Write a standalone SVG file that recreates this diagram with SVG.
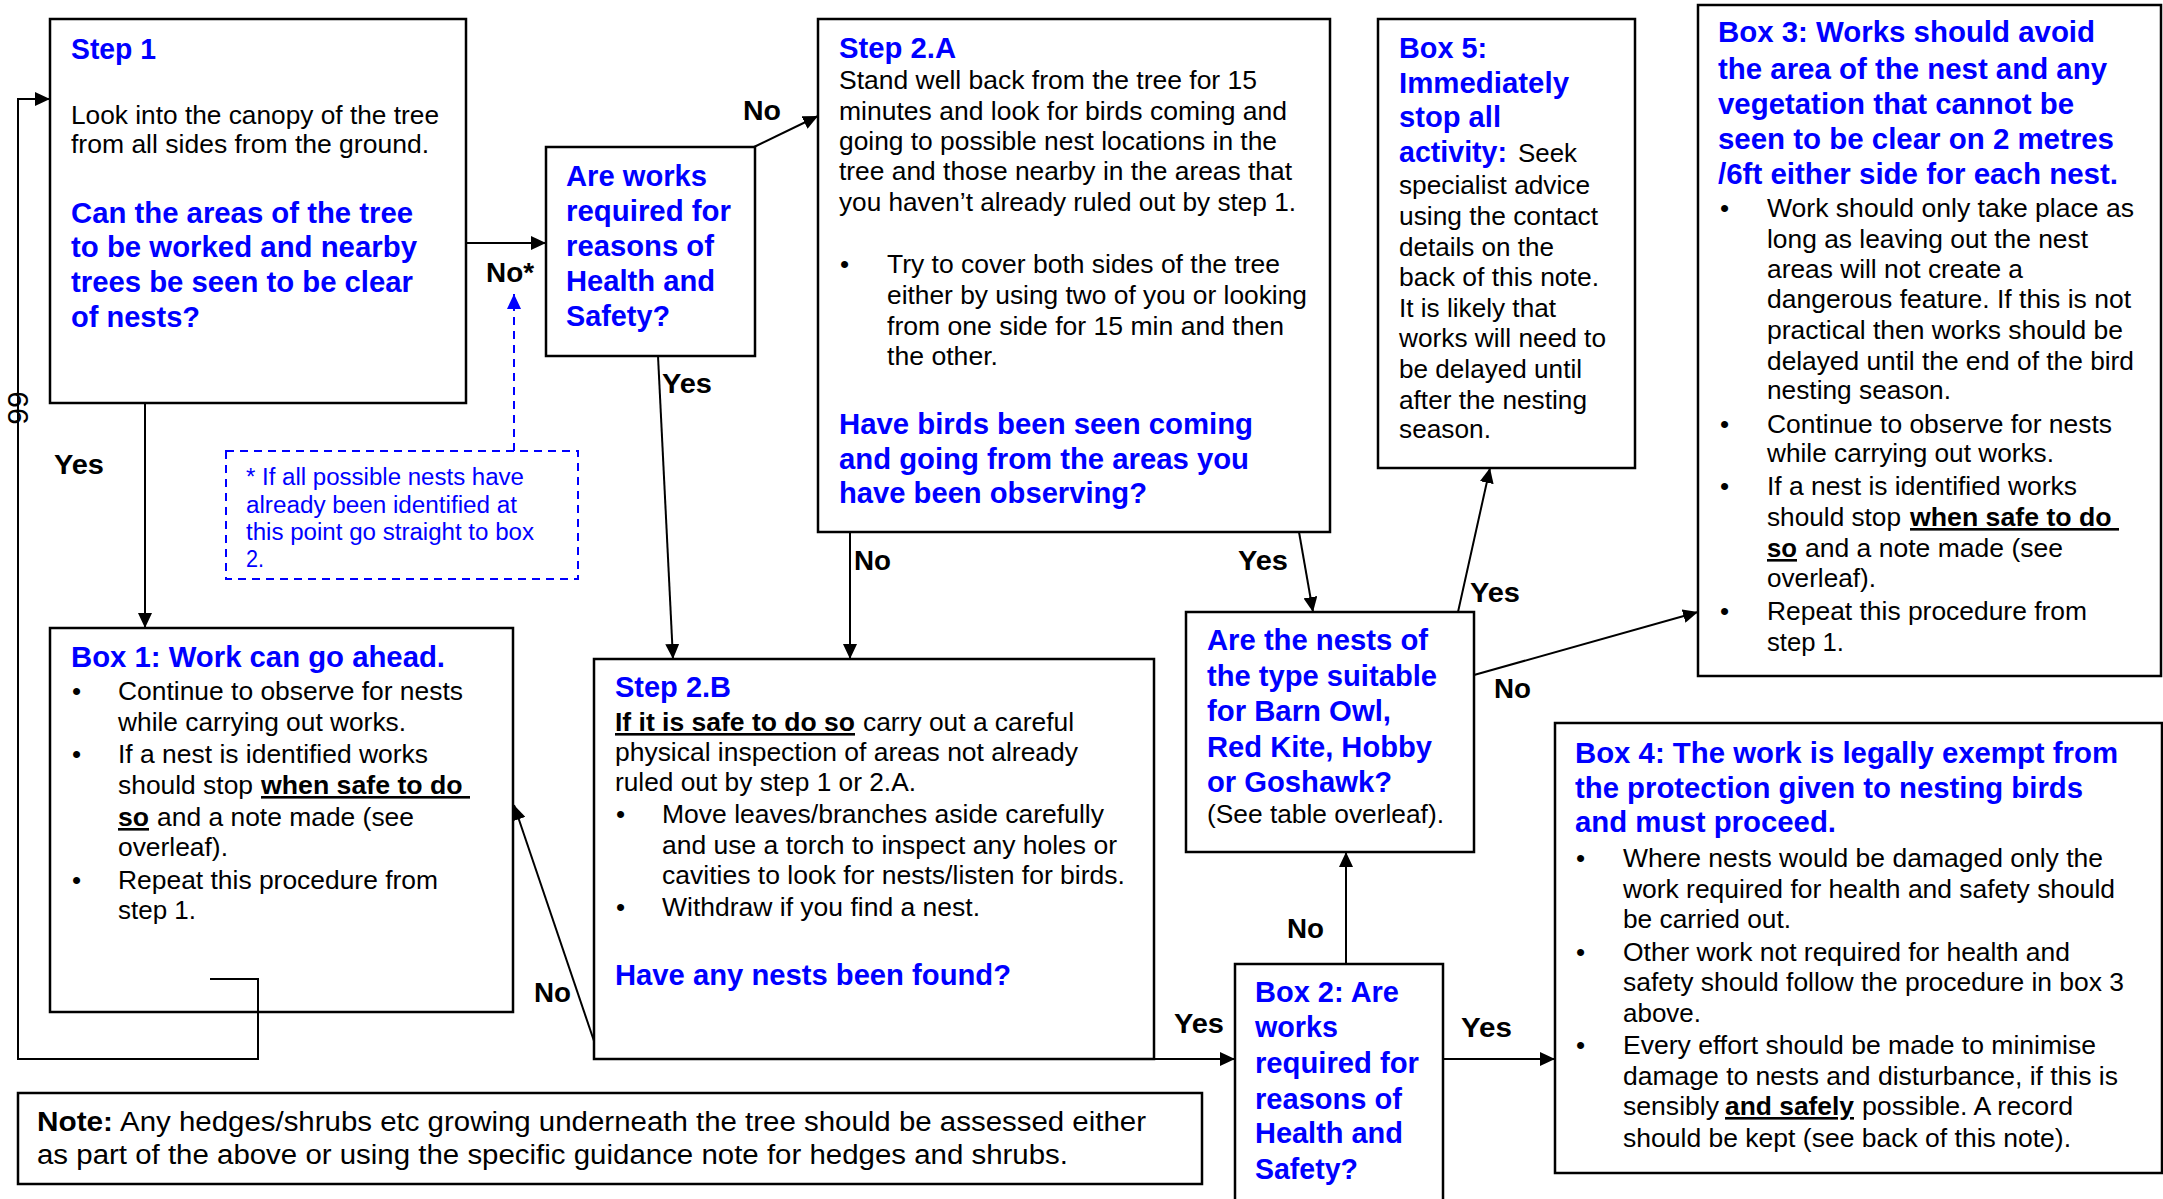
<svg xmlns="http://www.w3.org/2000/svg" width="2163" height="1199" viewBox="0 0 2163 1199">
<style>
text{font-family:"Liberation Sans",Arial,sans-serif;fill:#000}
.n{font-family:"Liberation Sans Narrow","Liberation Sans",Arial,sans-serif}
.b{font-size:26px}
.h{font-size:29px;font-weight:bold;fill:#0000ff}
.bk{font-weight:bold}
.u{text-decoration:underline}
.lbl{font-size:27px;font-weight:bold}
.dn{font-size:23px;fill:#0000ff}
.box{fill:#fff;stroke:#000;stroke-width:2.5}
.dash{fill:#fff;stroke:#0000ff;stroke-width:2;stroke-dasharray:8,6}
.c{fill:none;stroke:#000;stroke-width:2}
.cd{fill:none;stroke:#0000ff;stroke-width:2;stroke-dasharray:8,6}
</style>
<defs>
<marker id="ar" markerUnits="userSpaceOnUse" markerWidth="16" markerHeight="14" refX="15" refY="7" orient="auto"><path d="M0,0 L15,7 L0,14 z" fill="#000"/></marker>
<marker id="arb" markerUnits="userSpaceOnUse" markerWidth="16" markerHeight="14" refX="15" refY="7" orient="auto"><path d="M0,0 L15,7 L0,14 z" fill="#0000ff"/></marker>
</defs>
<rect width="2163" height="1199" fill="#fff"/>

<g id="step1">
<rect class="box" x="50" y="19" width="416" height="384"/>
<text class="h n" x="71" y="59" textLength="85" lengthAdjust="spacingAndGlyphs">Step 1</text>
<text class="b n" x="71" y="124" textLength="368" lengthAdjust="spacingAndGlyphs">Look into the canopy of the tree</text>
<text class="b n" x="71" y="153" textLength="358" lengthAdjust="spacingAndGlyphs">from all sides from the ground.</text>
<text class="h n" x="71" y="223" textLength="342" lengthAdjust="spacingAndGlyphs">Can the areas of the tree</text>
<text class="h n" x="71" y="257" textLength="346" lengthAdjust="spacingAndGlyphs">to be worked and nearby</text>
<text class="h n" x="71" y="292" textLength="342" lengthAdjust="spacingAndGlyphs">trees be seen to be clear</text>
<text class="h n" x="71" y="327" textLength="129" lengthAdjust="spacingAndGlyphs">of nests?</text>
</g>

<g id="works-hs-1">
<rect class="box" x="546" y="147" width="209" height="209"/>
<text class="h n" x="566" y="186" textLength="141" lengthAdjust="spacingAndGlyphs">Are works</text>
<text class="h n" x="566" y="221" textLength="165" lengthAdjust="spacingAndGlyphs">required for</text>
<text class="h n" x="566" y="256" textLength="148" lengthAdjust="spacingAndGlyphs">reasons of</text>
<text class="h n" x="566" y="291" textLength="149" lengthAdjust="spacingAndGlyphs">Health and</text>
<text class="h n" x="566" y="326" textLength="104" lengthAdjust="spacingAndGlyphs">Safety?</text>
</g>

<g id="footnote">
<rect class="dash" x="226" y="451" width="352" height="128"/>
<text class="dn n" x="246" y="485" textLength="278" lengthAdjust="spacingAndGlyphs">* If all possible nests have</text>
<text class="dn n" x="246" y="513" textLength="271" lengthAdjust="spacingAndGlyphs">already been identified at</text>
<text class="dn n" x="246" y="540" textLength="288" lengthAdjust="spacingAndGlyphs">this point go straight to box</text>
<text class="dn n" x="246" y="567" textLength="18" lengthAdjust="spacingAndGlyphs">2.</text>
</g>

<g id="step2a">
<rect class="box" x="818" y="19" width="512" height="513"/>
<text class="h n" x="839" y="58" textLength="117" lengthAdjust="spacingAndGlyphs">Step 2.A</text>
<text class="b n" x="839" y="89" textLength="418" lengthAdjust="spacingAndGlyphs">Stand well back from the tree for 15</text>
<text class="b n" x="839" y="120" textLength="448" lengthAdjust="spacingAndGlyphs">minutes and look for birds coming and</text>
<text class="b n" x="839" y="150" textLength="438" lengthAdjust="spacingAndGlyphs">going to possible nest locations in the</text>
<text class="b n" x="839" y="180" textLength="453" lengthAdjust="spacingAndGlyphs">tree and those nearby in the areas that</text>
<text class="b n" x="839" y="211" textLength="457" lengthAdjust="spacingAndGlyphs">you haven’t already ruled out by step 1.</text>
<text class="b" x="840" y="273">•</text>
<text class="b n" x="887" y="273" textLength="393" lengthAdjust="spacingAndGlyphs">Try to cover both sides of the tree</text>
<text class="b n" x="887" y="304" textLength="420" lengthAdjust="spacingAndGlyphs">either by using two of you or looking</text>
<text class="b n" x="887" y="335" textLength="397" lengthAdjust="spacingAndGlyphs">from one side for 15 min and then</text>
<text class="b n" x="887" y="365" textLength="111" lengthAdjust="spacingAndGlyphs">the other.</text>
<text class="h n" x="839" y="434" textLength="414" lengthAdjust="spacingAndGlyphs">Have birds been seen coming</text>
<text class="h n" x="839" y="469" textLength="410" lengthAdjust="spacingAndGlyphs">and going from the areas you</text>
<text class="h n" x="839" y="503" textLength="308" lengthAdjust="spacingAndGlyphs">have been observing?</text>
</g>

<g id="box5">
<rect class="box" x="1378" y="19" width="257" height="449"/>
<text class="h n" x="1399" y="58" textLength="88" lengthAdjust="spacingAndGlyphs">Box 5:</text>
<text class="h n" x="1399" y="93" textLength="170" lengthAdjust="spacingAndGlyphs">Immediately</text>
<text class="h n" x="1399" y="127" textLength="102" lengthAdjust="spacingAndGlyphs">stop all</text>
<text class="h n" x="1399" y="162" textLength="108" lengthAdjust="spacingAndGlyphs">activity:</text>
<text class="b n" x="1518" y="162" textLength="59" lengthAdjust="spacingAndGlyphs">Seek</text>
<text class="b n" x="1399" y="194" textLength="191" lengthAdjust="spacingAndGlyphs">specialist advice</text>
<text class="b n" x="1399" y="225" textLength="199" lengthAdjust="spacingAndGlyphs">using the contact</text>
<text class="b n" x="1399" y="256" textLength="155" lengthAdjust="spacingAndGlyphs">details on the</text>
<text class="b n" x="1399" y="286" textLength="200" lengthAdjust="spacingAndGlyphs">back of this note.</text>
<text class="b n" x="1399" y="317" textLength="157" lengthAdjust="spacingAndGlyphs">It is likely that</text>
<text class="b n" x="1399" y="347" textLength="207" lengthAdjust="spacingAndGlyphs">works will need to</text>
<text class="b n" x="1399" y="378" textLength="183" lengthAdjust="spacingAndGlyphs">be delayed until</text>
<text class="b n" x="1399" y="409" textLength="188" lengthAdjust="spacingAndGlyphs">after the nesting</text>
<text class="b n" x="1399" y="438" textLength="92" lengthAdjust="spacingAndGlyphs">season.</text>
</g>

<g id="box3">
<rect class="box" x="1698" y="5" width="463" height="671"/>
<text class="h" x="1718" y="42" textLength="377" lengthAdjust="spacingAndGlyphs">Box 3: Works should avoid</text>
<text class="h" x="1718" y="79" textLength="389" lengthAdjust="spacingAndGlyphs">the area of the nest and any</text>
<text class="h" x="1718" y="114" textLength="356" lengthAdjust="spacingAndGlyphs">vegetation that cannot be</text>
<text class="h" x="1718" y="149" textLength="396" lengthAdjust="spacingAndGlyphs">seen to be clear on 2 metres</text>
<text class="h" x="1718" y="184" textLength="400" lengthAdjust="spacingAndGlyphs">/6ft either side for each nest.</text>
<text class="b" x="1720" y="217">•</text>
<text class="b" x="1767" y="217" textLength="367" lengthAdjust="spacingAndGlyphs">Work should only take place as</text>
<text class="b" x="1767" y="248" textLength="321" lengthAdjust="spacingAndGlyphs">long as leaving out the nest</text>
<text class="b" x="1767" y="278" textLength="256" lengthAdjust="spacingAndGlyphs">areas will not create a</text>
<text class="b" x="1767" y="308" textLength="364" lengthAdjust="spacingAndGlyphs">dangerous feature. If this is not</text>
<text class="b" x="1767" y="339" textLength="356" lengthAdjust="spacingAndGlyphs">practical then works should be</text>
<text class="b" x="1767" y="370" textLength="367" lengthAdjust="spacingAndGlyphs">delayed until the end of the bird</text>
<text class="b" x="1767" y="399" textLength="184" lengthAdjust="spacingAndGlyphs">nesting season.</text>
<text class="b" x="1720" y="433">•</text>
<text class="b" x="1767" y="433" textLength="345" lengthAdjust="spacingAndGlyphs">Continue to observe for nests</text>
<text class="b" x="1767" y="462" textLength="287" lengthAdjust="spacingAndGlyphs">while carrying out works.</text>
<text class="b" x="1720" y="495">•</text>
<text class="b" x="1767" y="495" textLength="310" lengthAdjust="spacingAndGlyphs">If a nest is identified works</text>
<text class="b" x="1767" y="526" textLength="134" lengthAdjust="spacingAndGlyphs">should stop</text>
<text class="b bk u" x="1910" y="526" textLength="209" lengthAdjust="spacingAndGlyphs">when safe to do&#160;</text>
<text class="b bk u" x="1767" y="557" textLength="30" lengthAdjust="spacingAndGlyphs">so</text>
<text class="b" x="1805" y="557" textLength="258" lengthAdjust="spacingAndGlyphs">and a note made (see</text>
<text class="b" x="1767" y="587" textLength="109" lengthAdjust="spacingAndGlyphs">overleaf).</text>
<text class="b" x="1720" y="620">•</text>
<text class="b" x="1767" y="620" textLength="320" lengthAdjust="spacingAndGlyphs">Repeat this procedure from</text>
<text class="b" x="1767" y="651" textLength="77" lengthAdjust="spacingAndGlyphs">step 1.</text>
</g>

<g id="box1">
<rect class="box" x="50" y="628" width="463" height="384"/>
<text class="h" x="71" y="667" textLength="374" lengthAdjust="spacingAndGlyphs">Box 1: Work can go ahead.</text>
<text class="b" x="72" y="700">•</text>
<text class="b" x="118" y="700" textLength="345" lengthAdjust="spacingAndGlyphs">Continue to observe for nests</text>
<text class="b" x="118" y="731" textLength="288" lengthAdjust="spacingAndGlyphs">while carrying out works.</text>
<text class="b" x="72" y="763">•</text>
<text class="b" x="118" y="763" textLength="310" lengthAdjust="spacingAndGlyphs">If a nest is identified works</text>
<text class="b" x="118" y="794" textLength="135" lengthAdjust="spacingAndGlyphs">should stop</text>
<text class="b bk u" x="261" y="794" textLength="209" lengthAdjust="spacingAndGlyphs">when safe to do&#160;</text>
<text class="b bk u" x="118" y="826" textLength="31" lengthAdjust="spacingAndGlyphs">so</text>
<text class="b" x="157" y="826" textLength="257" lengthAdjust="spacingAndGlyphs">and a note made (see</text>
<text class="b" x="118" y="856" textLength="110" lengthAdjust="spacingAndGlyphs">overleaf).</text>
<text class="b" x="72" y="889">•</text>
<text class="b" x="118" y="889" textLength="320" lengthAdjust="spacingAndGlyphs">Repeat this procedure from</text>
<text class="b" x="118" y="919" textLength="78" lengthAdjust="spacingAndGlyphs">step 1.</text>
</g>

<g id="step2b">
<rect class="box" x="594" y="659" width="560" height="400"/>
<text class="h n" x="615" y="697" textLength="116" lengthAdjust="spacingAndGlyphs">Step 2.B</text>
<text class="b n bk u" x="615" y="731" textLength="240" lengthAdjust="spacingAndGlyphs">If it is safe to do so</text>
<text class="b n" x="863" y="731" textLength="211" lengthAdjust="spacingAndGlyphs">carry out a careful</text>
<text class="b n" x="615" y="761" textLength="463" lengthAdjust="spacingAndGlyphs">physical inspection of areas not already</text>
<text class="b n" x="615" y="791" textLength="301" lengthAdjust="spacingAndGlyphs">ruled out by step 1 or 2.A.</text>
<text class="b" x="616" y="823">•</text>
<text class="b n" x="662" y="823" textLength="442" lengthAdjust="spacingAndGlyphs">Move leaves/branches aside carefully</text>
<text class="b n" x="662" y="854" textLength="455" lengthAdjust="spacingAndGlyphs">and use a torch to inspect any holes or</text>
<text class="b n" x="662" y="884" textLength="463" lengthAdjust="spacingAndGlyphs">cavities to look for nests/listen for birds.</text>
<text class="b" x="616" y="916">•</text>
<text class="b n" x="662" y="916" textLength="318" lengthAdjust="spacingAndGlyphs">Withdraw if you find a nest.</text>
<text class="h n" x="615" y="985" textLength="396" lengthAdjust="spacingAndGlyphs">Have any nests been found?</text>
</g>

<g id="nest-type">
<rect class="box" x="1186" y="612" width="288" height="240"/>
<text class="h" x="1207" y="650" textLength="221" lengthAdjust="spacingAndGlyphs">Are the nests of</text>
<text class="h" x="1207" y="686" textLength="230" lengthAdjust="spacingAndGlyphs">the type suitable</text>
<text class="h" x="1207" y="721" textLength="184" lengthAdjust="spacingAndGlyphs">for Barn Owl,</text>
<text class="h" x="1207" y="757" textLength="225" lengthAdjust="spacingAndGlyphs">Red Kite, Hobby</text>
<text class="h" x="1207" y="792" textLength="185" lengthAdjust="spacingAndGlyphs">or Goshawk?</text>
<text class="b" x="1207" y="823" textLength="237" lengthAdjust="spacingAndGlyphs">(See table overleaf).</text>
</g>

<g id="box2">
<rect class="box" x="1235" y="964" width="208" height="250"/>
<text class="h" x="1255" y="1002" textLength="144" lengthAdjust="spacingAndGlyphs">Box 2: Are</text>
<text class="h" x="1255" y="1037" textLength="83" lengthAdjust="spacingAndGlyphs">works</text>
<text class="h" x="1255" y="1073" textLength="164" lengthAdjust="spacingAndGlyphs">required for</text>
<text class="h" x="1255" y="1109" textLength="147" lengthAdjust="spacingAndGlyphs">reasons of</text>
<text class="h" x="1255" y="1143" textLength="148" lengthAdjust="spacingAndGlyphs">Health and</text>
<text class="h" x="1255" y="1179" textLength="103" lengthAdjust="spacingAndGlyphs">Safety?</text>
</g>

<g id="box4">
<rect class="box" x="1555" y="723" width="607" height="450"/>
<text class="h n" x="1575" y="763" textLength="543" lengthAdjust="spacingAndGlyphs">Box 4: The work is legally exempt from</text>
<text class="h n" x="1575" y="798" textLength="508" lengthAdjust="spacingAndGlyphs">the protection given to nesting birds</text>
<text class="h n" x="1575" y="832" textLength="261" lengthAdjust="spacingAndGlyphs">and must proceed.</text>
<text class="b" x="1576" y="867">•</text>
<text class="b n" x="1623" y="867" textLength="480" lengthAdjust="spacingAndGlyphs">Where nests would be damaged only the</text>
<text class="b n" x="1623" y="898" textLength="492" lengthAdjust="spacingAndGlyphs">work required for health and safety should</text>
<text class="b n" x="1623" y="928" textLength="168" lengthAdjust="spacingAndGlyphs">be carried out.</text>
<text class="b" x="1576" y="961">•</text>
<text class="b n" x="1623" y="961" textLength="447" lengthAdjust="spacingAndGlyphs">Other work not required for health and</text>
<text class="b n" x="1623" y="991" textLength="501" lengthAdjust="spacingAndGlyphs">safety should follow the procedure in box 3</text>
<text class="b n" x="1623" y="1022" textLength="78" lengthAdjust="spacingAndGlyphs">above.</text>
<text class="b" x="1576" y="1054">•</text>
<text class="b n" x="1623" y="1054" textLength="473" lengthAdjust="spacingAndGlyphs">Every effort should be made to minimise</text>
<text class="b n" x="1623" y="1085" textLength="495" lengthAdjust="spacingAndGlyphs">damage to nests and disturbance, if this is</text>
<text class="b n" x="1623" y="1115" textLength="96" lengthAdjust="spacingAndGlyphs">sensibly</text>
<text class="b n bk u" x="1725" y="1115" textLength="129" lengthAdjust="spacingAndGlyphs">and safely</text>
<text class="b n" x="1862" y="1115" textLength="211" lengthAdjust="spacingAndGlyphs">possible. A record</text>
<text class="b n" x="1623" y="1147" textLength="448" lengthAdjust="spacingAndGlyphs">should be kept (see back of this note).</text>
</g>

<g id="note">
<rect class="box" x="18" y="1093" width="1184" height="91"/>
<text class="n bk" x="37" y="1131" font-size="27" textLength="76" lengthAdjust="spacingAndGlyphs">Note:</text>
<text class="n" x="120" y="1131" font-size="27" textLength="1026" lengthAdjust="spacingAndGlyphs">Any hedges/shrubs etc growing underneath the tree should be assessed either</text>
<text class="n" x="37" y="1164" font-size="27" textLength="1031" lengthAdjust="spacingAndGlyphs">as part of the above or using the specific guidance note for hedges and shrubs.</text>
</g>

<g id="connectors">
<path class="c" d="M466,243 H546" marker-end="url(#ar)"/>
<path class="c" d="M754,147 L818,116" marker-end="url(#ar)"/>
<path class="c" d="M658,356 L673,659" marker-end="url(#ar)"/>
<path class="c" d="M145,403 V628" marker-end="url(#ar)"/>
<path class="c" d="M850,532 V659" marker-end="url(#ar)"/>
<path class="c" d="M1299,532 L1313,612" marker-end="url(#ar)"/>
<path class="c" d="M1458,612 L1490,468" marker-end="url(#ar)"/>
<path class="c" d="M1474,675 L1698,612" marker-end="url(#ar)"/>
<path class="c" d="M594,1041 L514,805" marker-end="url(#ar)"/>
<path class="c" d="M1154,1059 H1235" marker-end="url(#ar)"/>
<path class="c" d="M1346,964 V852" marker-end="url(#ar)"/>
<path class="c" d="M1443,1059 H1555" marker-end="url(#ar)"/>
<path class="c" d="M210,979 H258 V1059 H18 V99 H50" marker-end="url(#ar)"/>
<path class="cd" d="M514,451 V294" marker-end="url(#arb)"/>
<text class="lbl n" x="486" y="282" textLength="48" lengthAdjust="spacingAndGlyphs">No*</text>
<text class="lbl n" x="743" y="120" textLength="38" lengthAdjust="spacingAndGlyphs">No</text>
<text class="lbl n" x="662" y="393" textLength="50" lengthAdjust="spacingAndGlyphs">Yes</text>
<text class="lbl n" x="54" y="474" textLength="50" lengthAdjust="spacingAndGlyphs">Yes</text>
<text class="lbl n" x="854" y="570" textLength="37" lengthAdjust="spacingAndGlyphs">No</text>
<text class="lbl n" x="1238" y="570" textLength="50" lengthAdjust="spacingAndGlyphs">Yes</text>
<text class="lbl" x="1470" y="602" textLength="50" lengthAdjust="spacingAndGlyphs">Yes</text>
<text class="lbl" x="1494" y="698" textLength="37" lengthAdjust="spacingAndGlyphs">No</text>
<text class="lbl" x="534" y="1002" textLength="37" lengthAdjust="spacingAndGlyphs">No</text>
<text class="lbl n" x="1174" y="1033" textLength="50" lengthAdjust="spacingAndGlyphs">Yes</text>
<text class="lbl" x="1287" y="938" textLength="37" lengthAdjust="spacingAndGlyphs">No</text>
<text class="lbl" x="1461" y="1037" textLength="51" lengthAdjust="spacingAndGlyphs">Yes</text>
<text x="28" y="408" font-size="30" text-anchor="middle" transform="rotate(-90 28 408)">99</text>
</g>
</svg>
